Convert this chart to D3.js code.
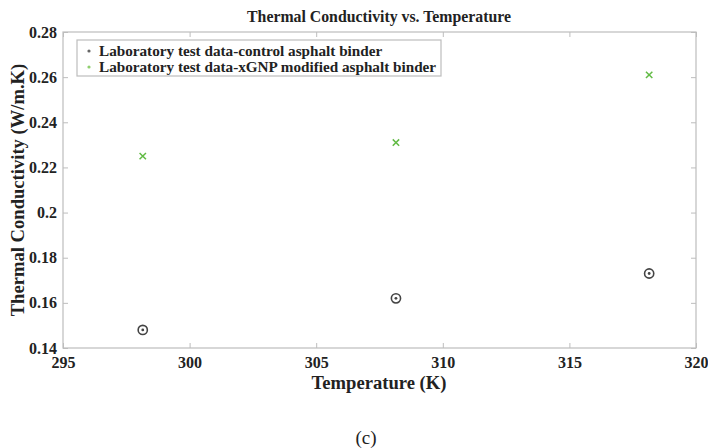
<!DOCTYPE html>
<html><head><meta charset="utf-8">
<script src="https://cdn.jsdelivr.net/npm/d3@7"></script>
<style>body{margin:0;background:#fff}svg{display:block}svg text{font-family:"Liberation Serif","Times New Roman","DejaVu Serif",serif}</style>
</head><body>
<script>
const temperatures = [298.15, 308.15, 318.15];
const controlValues = [0.148, 0.162, 0.173];
const xgnpValues = [0.225, 0.231, 0.261];
const xTicks = [295, 300, 305, 310, 315, 320];
const yTicks = [0.14, 0.16, 0.18, 0.2, 0.22, 0.24, 0.26, 0.28];
const seriesNames = ["Laboratory test data-control asphalt binder", "Laboratory test data-xGNP modified asphalt binder"];

const W = 708, H = 448;
const m = {left: 63, right: 12, top: 32, bottom: 100};
const svg = d3.select("body").append("svg").attr("width", W).attr("height", H);
const x = d3.scaleLinear().domain([295, 320]).range([m.left, W - m.right]);
const y = d3.scaleLinear().domain([0.14, 0.28]).range([H - m.bottom, m.top]);
const axisColor = "#bdbdbd";

svg.append("rect").attr("x", x(295)).attr("y", y(0.28)).attr("width", x(320) - x(295)).attr("height", y(0.14) - y(0.28))
  .attr("fill", "none").attr("stroke", axisColor).attr("stroke-width", 1.2);

function styleAxis(g) {
  g.attr("font-family", null);
  g.select(".domain").remove();
  g.selectAll(".tick line").attr("stroke", axisColor).attr("stroke-width", 1);
  g.selectAll(".tick text").attr("font-weight", "bold").attr("font-size", 16).attr("fill", "#222");
}
svg.append("g").attr("transform", `translate(0,${y(0.14)})`)
  .call(d3.axisBottom(x).tickValues(xTicks).tickFormat(d3.format("d")).tickSizeInner(-5).tickPadding(9))
  .call(styleAxis);
svg.append("g").attr("transform", `translate(0,${y(0.28)})`)
  .call(d3.axisTop(x).tickValues(xTicks).tickFormat("").tickSizeInner(-5))
  .call(styleAxis);
svg.append("g").attr("transform", `translate(${x(295)},0)`)
  .call(d3.axisLeft(y).tickValues(yTicks).tickFormat(d => String(+d.toFixed(2))).tickSizeInner(-5).tickPadding(6))
  .call(styleAxis);
svg.append("g").attr("transform", `translate(${x(320)},0)`)
  .call(d3.axisRight(y).tickValues(yTicks).tickFormat("").tickSizeInner(-5))
  .call(styleAxis);

svg.append("text").attr("x", 379).attr("y", 22).attr("text-anchor", "middle")
  .attr("font-weight", "bold").attr("font-size", 15.8).attr("fill", "#222").text("Thermal Conductivity vs. Temperature");
svg.append("text").attr("x", 379).attr("y", 389).attr("text-anchor", "middle")
  .attr("font-weight", "bold").attr("font-size", 18.6).attr("fill", "#222").text("Temperature (K)");
svg.append("text").attr("transform", `translate(24,${(y(0.14) + y(0.28)) / 2}) rotate(-90)`).attr("text-anchor", "middle")
  .attr("font-weight", "bold").attr("font-size", 18.6).attr("fill", "#222").text("Thermal Conductivity (W/m.K)");
svg.append("text").attr("x", 366).attr("y", 444).attr("text-anchor", "middle")
  .attr("font-size", 19).attr("fill", "#222").text("(c)");

const ctrl = svg.append("g");
temperatures.forEach((t, i) => {
  ctrl.append("circle").attr("cx", x(t)).attr("cy", y(controlValues[i])).attr("r", 4.6)
    .attr("fill", "none").attr("stroke", "#444").attr("stroke-width", 1.6);
  ctrl.append("circle").attr("cx", x(t)).attr("cy", y(controlValues[i])).attr("r", 1.4).attr("fill", "#444");
});
const xg = svg.append("g");
temperatures.forEach((t, i) => {
  const cx = x(t), cy = y(xgnpValues[i]), s = 3.2;
  xg.append("path").attr("d", `M${cx - s},${cy - s}L${cx + s},${cy + s}M${cx - s},${cy + s}L${cx + s},${cy - s}`)
    .attr("stroke", "#62bb45").attr("stroke-width", 1.5);
});

const lg = svg.append("g");
lg.append("rect").attr("x", 77).attr("y", 40).attr("width", 364).attr("height", 36)
  .attr("fill", "#fff").attr("stroke", axisColor).attr("stroke-width", 1.2);
const legColors = ["#666", "#8fcf6f"];
seriesNames.forEach((n, i) => {
  lg.append("circle").attr("cx", 89).attr("cy", 51 + i * 16).attr("r", 1.6).attr("fill", legColors[i]);
  lg.append("text").attr("x", 99).attr("y", 55.5 + i * 16).attr("font-weight", "bold")
    .attr("font-size", 15.2).attr("fill", "#222").text(n);
});
</script>
</body></html>
